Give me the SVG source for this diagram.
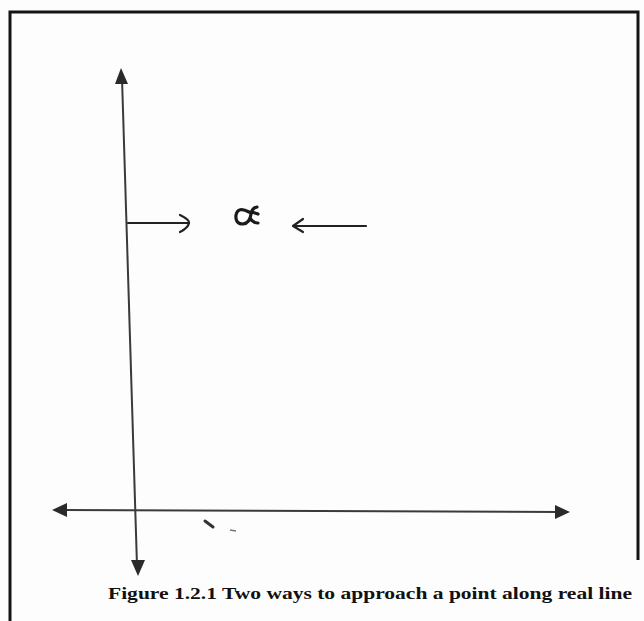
<svg xmlns="http://www.w3.org/2000/svg" width="644" height="621" viewBox="0 0 644 621">
<defs>
<style>
.ax{stroke:#3a3a3a;stroke-width:2;fill:none}
.hd{fill:#2a2a2a;stroke:none}
.pen{stroke:#222;stroke-width:2.2;fill:none;stroke-linecap:round;stroke-linejoin:round}
.cap{font-family:"Liberation Serif","Times New Roman",serif;font-weight:bold;font-size:17px;fill:#111}
</style>
</defs>
<rect x="0" y="0" width="644" height="621" fill="#fdfdfd"/>
<g id="frame">
<path d="M10,621 L10,12 L638,12 L638,560" stroke="#151515" stroke-width="3" fill="none"/>
</g>
<g id="connectors">
<line class="ax" x1="122" y1="78" x2="137" y2="566"/>
<polygon class="hd" points="121,68 115,84 128,84"/>
<polygon class="hd" points="138,576 131,560 145,560"/>
<line class="ax" x1="62" y1="510" x2="560" y2="512"/>
<polygon class="hd" points="52,510 67,503 67,517"/>
<polygon class="hd" points="570,512 555,505 555,519"/>
<path class="pen" d="M128,223 L189,223"/>
<path class="pen" d="M180,215 Q190,220 189,223 Q188,228 180,232"/>
<path class="pen" d="M294,226 L366,226"/>
<path class="pen" d="M303,219 L293,226 L303,232"/>
</g>
<g id="point">
<path d="M249,212 Q238,206 236,215 Q235,224 243,224 Q250,223 251,214 Q252,208 257,207 M250,218 Q253,223 258,223 M252,212 L258,214" stroke="#1a1a1a" stroke-width="3.2" fill="none" stroke-linecap="round" stroke-linejoin="round"/>
</g>
<g id="marks">
<path d="M205,521 L213,527" stroke="#333" stroke-width="3" stroke-linecap="round"/>
<path d="M230,530 L236,531" stroke="#777" stroke-width="1.5"/>
</g>
<g id="caption">
<text class="cap" x="108" y="599" textLength="524" lengthAdjust="spacingAndGlyphs">Figure 1.2.1 Two ways to approach a point along real line</text>
</g>
</svg>
